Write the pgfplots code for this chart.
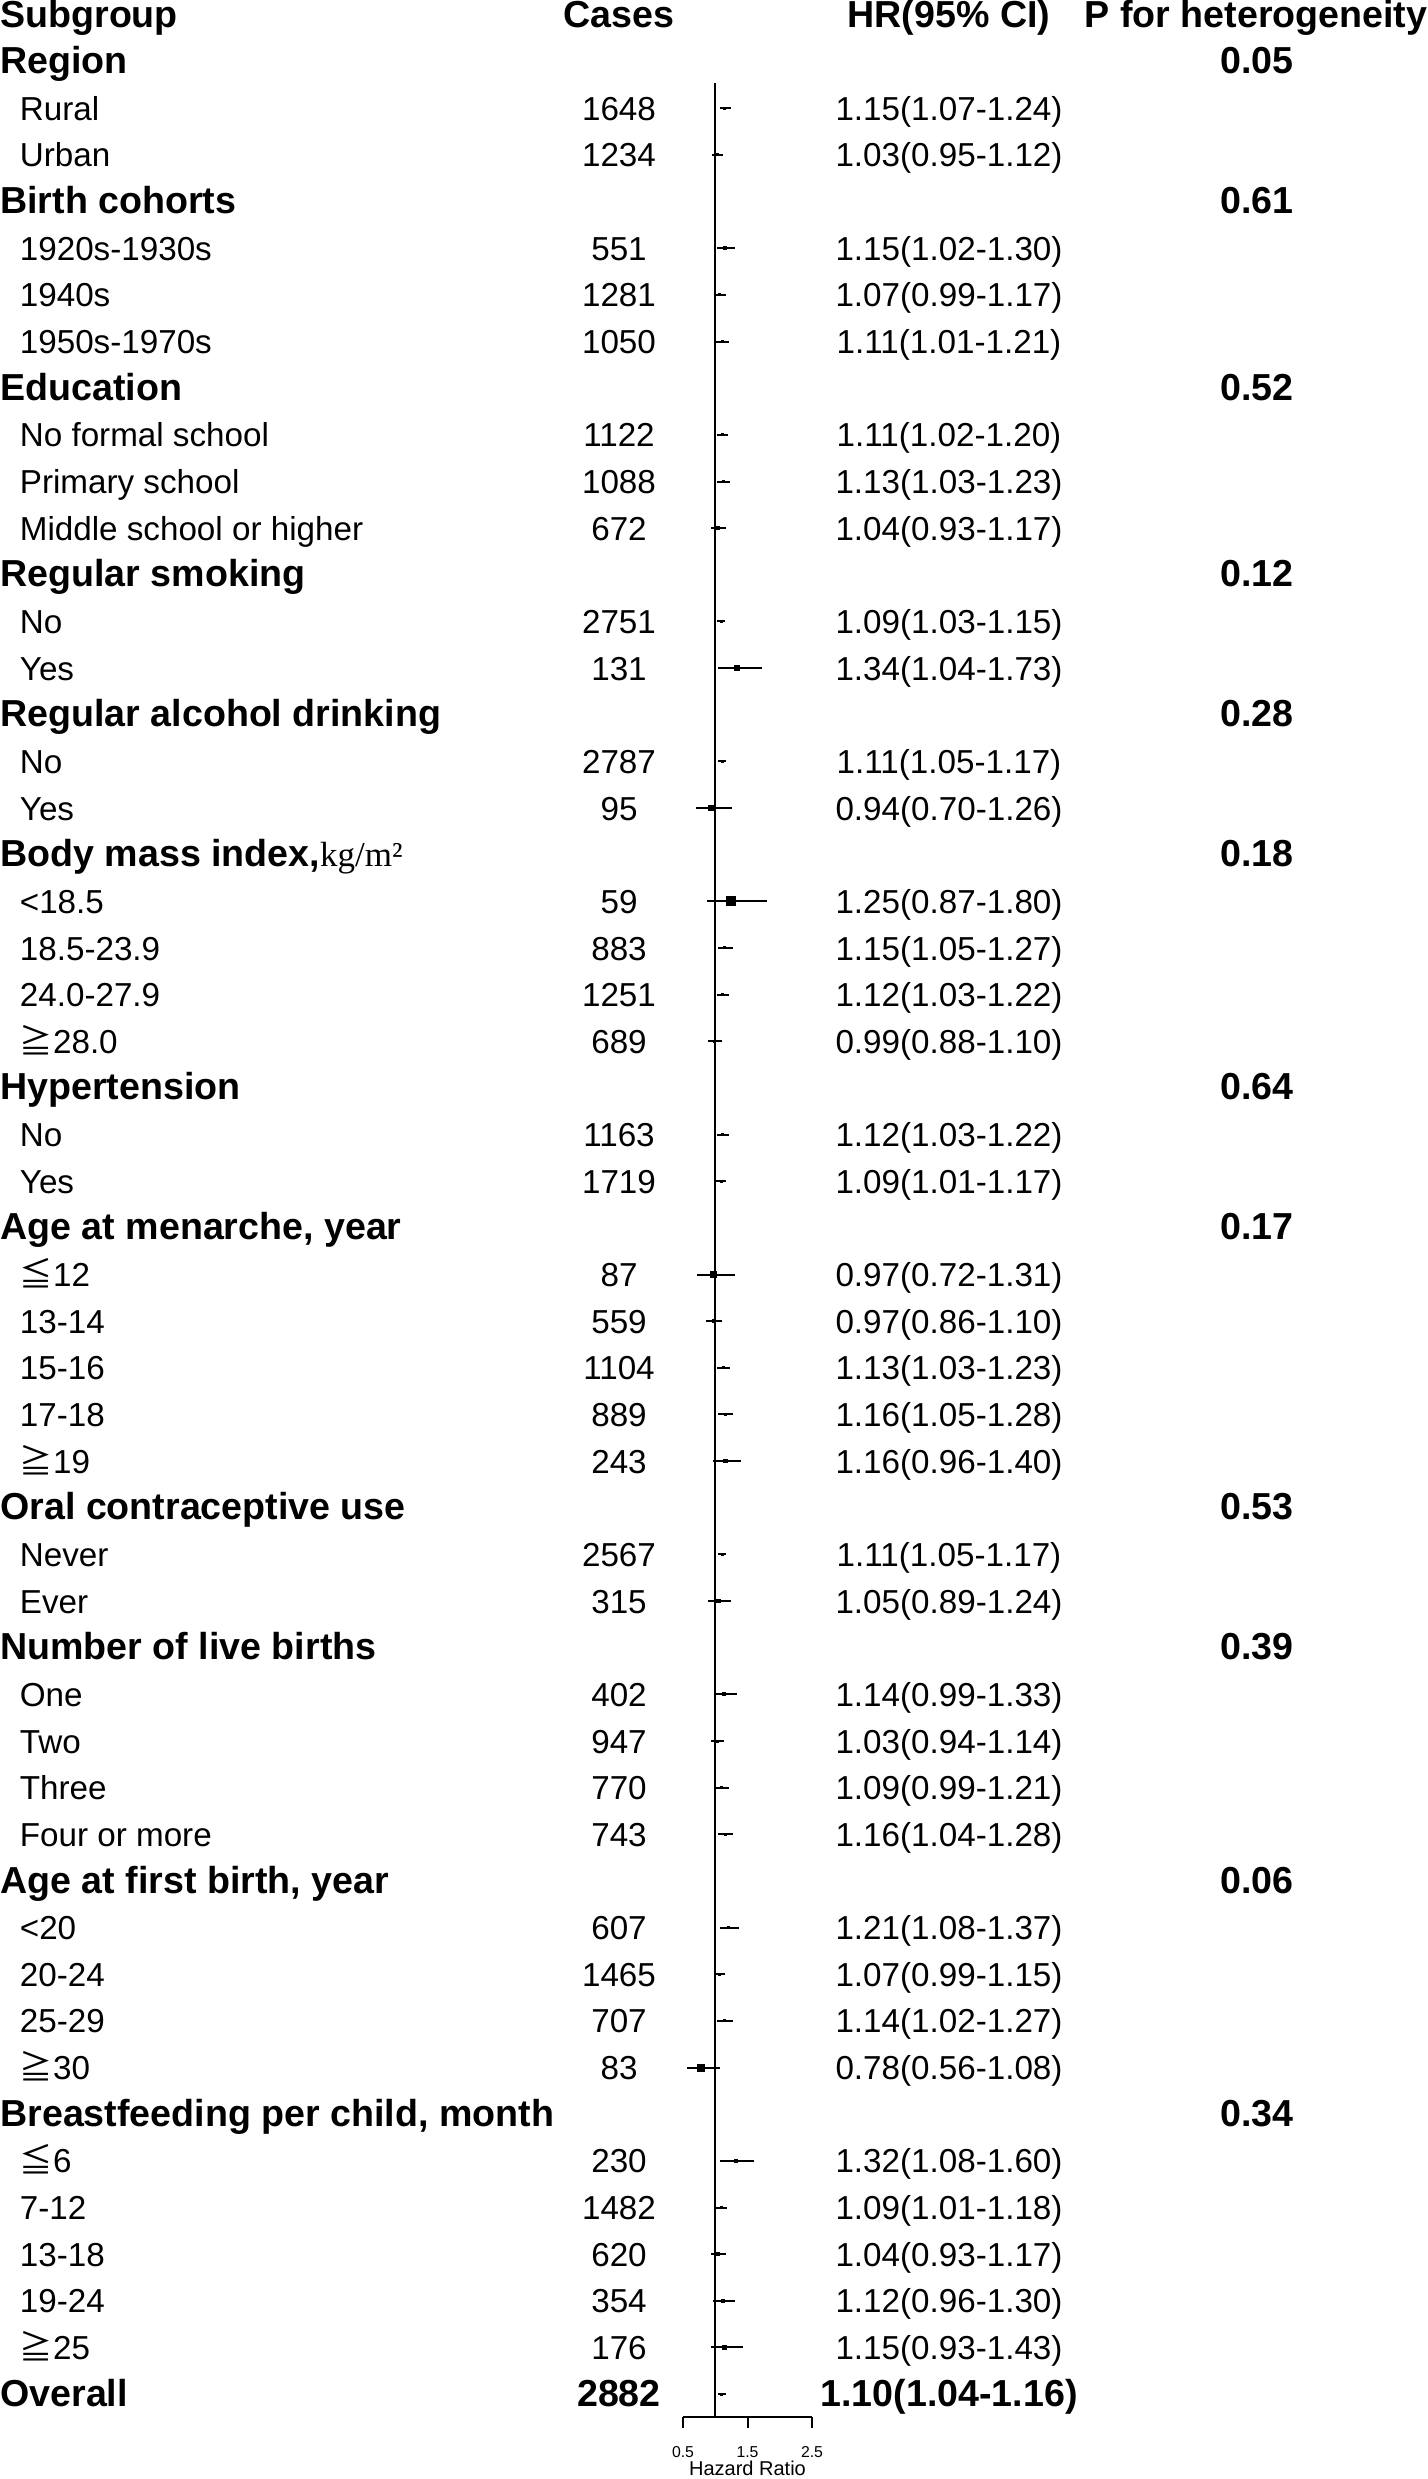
\documentclass[border=0pt]{standalone}
\usepackage{pgfplots}
\pgfplotsset{compat=1.18}
\usepackage{pgfplotstable}
\usepackage{fontspec}
\setmainfont{Liberation Sans}
\newfontfamily\cjk{Noto Sans CJK SC}
\newfontfamily\kgfont{Liberation Serif}
\newcommand\rf{\fontsize{16.6pt}{20pt}\selectfont}
\newcommand\bh{\fontsize{18.8pt}{22pt}\selectfont\bfseries}
\newcommand\LE{{\cjk ≦}}
\newcommand\GE{{\cjk ≧}}

\pgfplotstableread{
row hr lo hi ms
2 1.15 1.07 1.24 0.5
3 1.03 0.95 1.12 0.5
5 1.15 1.02 1.30 0.7
6 1.07 0.99 1.17 0.5
7 1.11 1.01 1.21 0.5
9 1.11 1.02 1.20 0.5
10 1.13 1.03 1.23 0.5
11 1.04 0.93 1.17 0.7
13 1.09 1.03 1.15 0.5
14 1.34 1.04 1.73 1.1
16 1.11 1.05 1.17 0.5
17 0.94 0.70 1.26 1.4
19 1.25 0.87 1.80 2.25
20 1.15 1.05 1.27 0.5
21 1.12 1.03 1.22 0.5
22 0.99 0.88 1.10 0.5
24 1.12 1.03 1.22 0.5
25 1.09 1.01 1.17 0.5
27 0.97 0.72 1.31 1.5
28 0.97 0.86 1.10 0.6
29 1.13 1.03 1.23 0.5
30 1.16 1.05 1.28 0.5
31 1.16 0.96 1.40 0.8
33 1.11 1.05 1.17 0.5
34 1.05 0.89 1.24 0.8
36 1.14 0.99 1.33 0.7
37 1.03 0.94 1.14 0.5
38 1.09 0.99 1.21 0.5
39 1.16 1.04 1.28 0.5
41 1.21 1.08 1.37 0.5
42 1.07 0.99 1.15 0.5
43 1.14 1.02 1.27 0.5
44 0.78 0.56 1.08 1.75
46 1.32 1.08 1.60 0.8
47 1.09 1.01 1.18 0.5
48 1.04 0.93 1.17 0.7
49 1.12 0.96 1.30 0.8
50 1.15 0.93 1.43 1.0
51 1.10 1.04 1.16 0.5
}\forest

\newcommand\Sub[4]{%
  \node[anchor=base west,inner sep=0pt,font=\rf] at (19.5,{27+46.65*#1}) {#2};
  \node[anchor=base,inner sep=0pt,font=\rf] at (619,{27+46.65*#1}) {#3};
  \node[anchor=base,inner sep=0pt,font=\rf] at (949,{27+46.65*#1}) {#4};}
\newcommand\Hd[3]{%
  \node[anchor=base west,inner sep=0pt,font=\bh] at (0,{27+46.65*#1}) {#2};
  \node[anchor=base,inner sep=0pt,font=\bh] at (1257,{27+46.65*#1}) {#3};}

\begin{document}
\begin{tikzpicture}
\path[use as bounding box] (0pt,0pt) rectangle (714pt,-1239.5pt);
\begin{axis}[
  at={(341.5pt,-41.5pt)}, anchor=north west,
  scale only axis, width=64.5pt, height=1167pt,
  xmin=0.5, xmax=2.5, ymin=-51.490, ymax=-1.4577,
  clip=false,
  axis x line*=bottom, axis y line=none,
  x axis line style={-, line width=1pt},
  xtick={0.5,1.5,2.5}, xticklabels={0.5,1.5,2.5},
  xtick pos=bottom, ytick=\empty,
  tick align=outside, major tick length=5.5pt,
  tick style={line width=1pt, black},
  xticklabel style={font=\fontsize{7.9pt}{9pt}\selectfont, anchor=north, inner sep=0pt, yshift=-9pt},
  xlabel={Hazard Ratio},
  xlabel style={at={(axis description cs:0.5,0)}, anchor=base, inner sep=0pt, yshift=-29.5pt, font=\fontsize{10pt}{12pt}\selectfont},
]
\addplot[line width=1pt, black, mark=none] coordinates {(1,-1.4577) (1,-51.490)};
\addplot[only marks, mark=square*, scatter,
  scatter/use mapped color={draw=black, fill=black},
  visualization depends on={\thisrow{ms} \as \ms},
  scatter/@pre marker code/.append style={/tikz/mark size=\ms},
  mark options={line width=0pt},
  error bars/.cd, x dir=both, x explicit, error mark=none,
  error bar style={line width=1pt, black}]
  table[x=hr, y expr=-\thisrow{row},
        x error plus expr=\thisrow{hi}-\thisrow{hr},
        x error minus expr=\thisrow{hr}-\thisrow{lo}] \forest;
\end{axis}
\begin{scope}[x=0.5pt, y=-0.5pt]
% header
\node[anchor=base west,inner sep=0pt,font=\bh] at (0,27) {Subgroup};
\node[anchor=base,inner sep=0pt,font=\bh] at (619,27) {Cases};
\node[anchor=base,inner sep=0pt,font=\bh] at (949,27) {HR(95\% CI)};
\node[anchor=base,inner sep=0pt,font=\bh] at (1256,27) {P for heterogeneity};
\Hd{1}{Region}{0.05}
\Sub{2}{Rural}{1648}{1.15(1.07-1.24)}
\Sub{3}{Urban}{1234}{1.03(0.95-1.12)}
\Hd{4}{Birth cohorts}{0.61}
\Sub{5}{1920s-1930s}{551}{1.15(1.02-1.30)}
\Sub{6}{1940s}{1281}{1.07(0.99-1.17)}
\Sub{7}{1950s-1970s}{1050}{1.11(1.01-1.21)}
\Hd{8}{Education}{0.52}
\Sub{9}{No formal school}{1122}{1.11(1.02-1.20)}
\Sub{10}{Primary school}{1088}{1.13(1.03-1.23)}
\Sub{11}{Middle school or higher}{672}{1.04(0.93-1.17)}
\Hd{12}{Regular smoking}{0.12}
\Sub{13}{No}{2751}{1.09(1.03-1.15)}
\Sub{14}{Yes}{131}{1.34(1.04-1.73)}
\Hd{15}{Regular alcohol drinking}{0.28}
\Sub{16}{No}{2787}{1.11(1.05-1.17)}
\Sub{17}{Yes}{95}{0.94(0.70-1.26)}
\Hd{18}{Body mass index,{\kgfont\mdseries\fontsize{17.5pt}{20pt}\selectfont kg/m²}}{0.18}
\Sub{19}{<18.5}{59}{1.25(0.87-1.80)}
\Sub{20}{18.5-23.9}{883}{1.15(1.05-1.27)}
\Sub{21}{24.0-27.9}{1251}{1.12(1.03-1.22)}
\Sub{22}{\GE28.0}{689}{0.99(0.88-1.10)}
\Hd{23}{Hypertension}{0.64}
\Sub{24}{No}{1163}{1.12(1.03-1.22)}
\Sub{25}{Yes}{1719}{1.09(1.01-1.17)}
\Hd{26}{Age at menarche, year}{0.17}
\Sub{27}{\LE12}{87}{0.97(0.72-1.31)}
\Sub{28}{13-14}{559}{0.97(0.86-1.10)}
\Sub{29}{15-16}{1104}{1.13(1.03-1.23)}
\Sub{30}{17-18}{889}{1.16(1.05-1.28)}
\Sub{31}{\GE19}{243}{1.16(0.96-1.40)}
\Hd{32}{Oral contraceptive use}{0.53}
\Sub{33}{Never}{2567}{1.11(1.05-1.17)}
\Sub{34}{Ever}{315}{1.05(0.89-1.24)}
\Hd{35}{Number of live births}{0.39}
\Sub{36}{One}{402}{1.14(0.99-1.33)}
\Sub{37}{Two}{947}{1.03(0.94-1.14)}
\Sub{38}{Three}{770}{1.09(0.99-1.21)}
\Sub{39}{Four or more}{743}{1.16(1.04-1.28)}
\Hd{40}{Age at first birth, year}{0.06}
\Sub{41}{<20}{607}{1.21(1.08-1.37)}
\Sub{42}{20-24}{1465}{1.07(0.99-1.15)}
\Sub{43}{25-29}{707}{1.14(1.02-1.27)}
\Sub{44}{\GE30}{83}{0.78(0.56-1.08)}
\Hd{45}{Breastfeeding per child, month}{0.34}
\Sub{46}{\LE6}{230}{1.32(1.08-1.60)}
\Sub{47}{7-12}{1482}{1.09(1.01-1.18)}
\Sub{48}{13-18}{620}{1.04(0.93-1.17)}
\Sub{49}{19-24}{354}{1.12(0.96-1.30)}
\Sub{50}{\GE25}{176}{1.15(0.93-1.43)}
\node[anchor=base west,inner sep=0pt,font=\bh] at (0,{27+46.65*51}) {Overall};
\node[anchor=base,inner sep=0pt,font=\bh] at (619,{27+46.65*51}) {2882};
\node[anchor=base,inner sep=0pt,font=\bh] at (949,{27+46.65*51}) {1.10(1.04-1.16)};
\end{scope}
\end{tikzpicture}
\end{document}
